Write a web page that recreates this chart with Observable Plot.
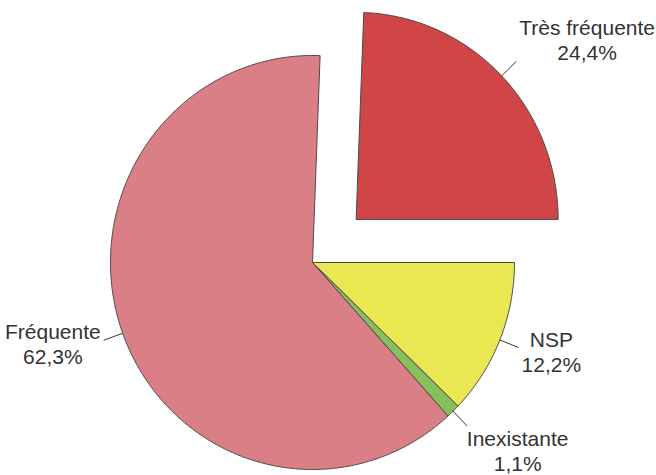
<!DOCTYPE html>
<html><head><meta charset="utf-8">
<script src="https://cdn.jsdelivr.net/npm/d3@7"></script>
<script src="https://cdn.jsdelivr.net/npm/@observablehq/plot@0.6"></script>
<style>body{margin:0;background:#fff}</style>
</head><body><div id="chart"></div>
<script>
// Data (clockwise order, starting at 3 o'clock)
const categories = ["NSP", "Inexistante", "Fréquente", "Très fréquente"];
const values = [12.2, 1.1, 62.3, 24.4];
const valueLabels = ["12,2%", "1,1%", "62,3%", "24,4%"];
const colors = ["#e9e852", "#88bf5c", "#db7f86", "#d04545"];
const exploded = [false, false, false, true];

// Layout
const W = 656, H = 475;
const cx = 312, cy = 262, rx = 202, ry = 207;
const startDeg = 90;          // clockwise from 12 o'clock
const explodeFrac = 0.30;
const fontSize = 21;
const lineHeight = 25 / 21;
const fontFamily = "'Liberation Sans', Arial, Helvetica, sans-serif";

const total = d3.sum(values);
const rad = d => d * Math.PI / 180;

let acc = startDeg;
const slices = values.map((v, i) => {
  const a0 = acc, a1 = acc + v / total * 360;
  acc = a1;
  const mid = rad((a0 + a1) / 2);
  const off = exploded[i] ? explodeFrac : 0;
  const ox = off * Math.sin(mid), oy = off * Math.cos(mid);
  const pts = [{x: ox, y: oy}];
  const n = Math.max(2, Math.ceil((a1 - a0) * 2));
  for (let k = 0; k <= n; k++) {
    const t = rad(a0 + (a1 - a0) * k / n);
    pts.push({x: ox + Math.sin(t), y: oy + Math.cos(t)});
  }
  pts.push({x: ox, y: oy});
  return {i, mid, ox, oy, pts};
});

// text measure
const ctx = document.createElement("canvas").getContext("2d");
ctx.font = `${fontSize}px ${fontFamily}`;

const leaders = [], texts = [];
slices.forEach(s => {
  const dx = Math.sin(s.mid), dy = Math.cos(s.mid); // y up in unit coords
  const x1 = s.ox + dx, y1 = s.oy + dy;
  const x2 = s.ox + 1.1 * dx, y2 = s.oy + 1.1 * dy;
  leaders.push({x1, y1, x2, y2});
  const lines = [categories[s.i], valueLabels[s.i]];
  const w = d3.max(lines, l => ctx.measureText(l).width);
  const h = lines.length * fontSize * 1.05;
  const pdx = dx, pdy = -dy;
  const m2 = Math.max(Math.abs(pdx), Math.abs(pdy)) ** 2;
  const fx = pdx * Math.abs(pdx) / m2, fy = pdy * Math.abs(pdy) / m2;
  const gx = fx * (w / 2 + 3), gy = fy * (h / 2 + 2);
  texts.push({x: x2 + gx / rx, y: y2 - gy / ry, text: lines.join("\n")});
});

const chart = Plot.plot({
  width: W, height: H,
  margin: 0,
  x: {domain: [-cx / rx, (W - cx) / rx], axis: null},
  y: {domain: [-(H - cy) / ry, cy / ry], axis: null},
  style: {fontFamily, background: "#fff"},
  marks: [
    ...slices.map(s => Plot.line(s.pts, {x: "x", y: "y", fill: colors[s.i], stroke: "#4a4a4a", strokeWidth: 1, strokeLinejoin: "round"})),
    Plot.link(leaders, {x1: "x1", y1: "y1", x2: "x2", y2: "y2", stroke: "#333", strokeWidth: 1}),
    Plot.text(texts, {x: "x", y: "y", text: "text", fontSize, lineHeight, textAnchor: "middle", lineAnchor: "middle", fill: "#333"})
  ]
});
document.getElementById("chart").appendChild(chart);
</script>
</body></html>
